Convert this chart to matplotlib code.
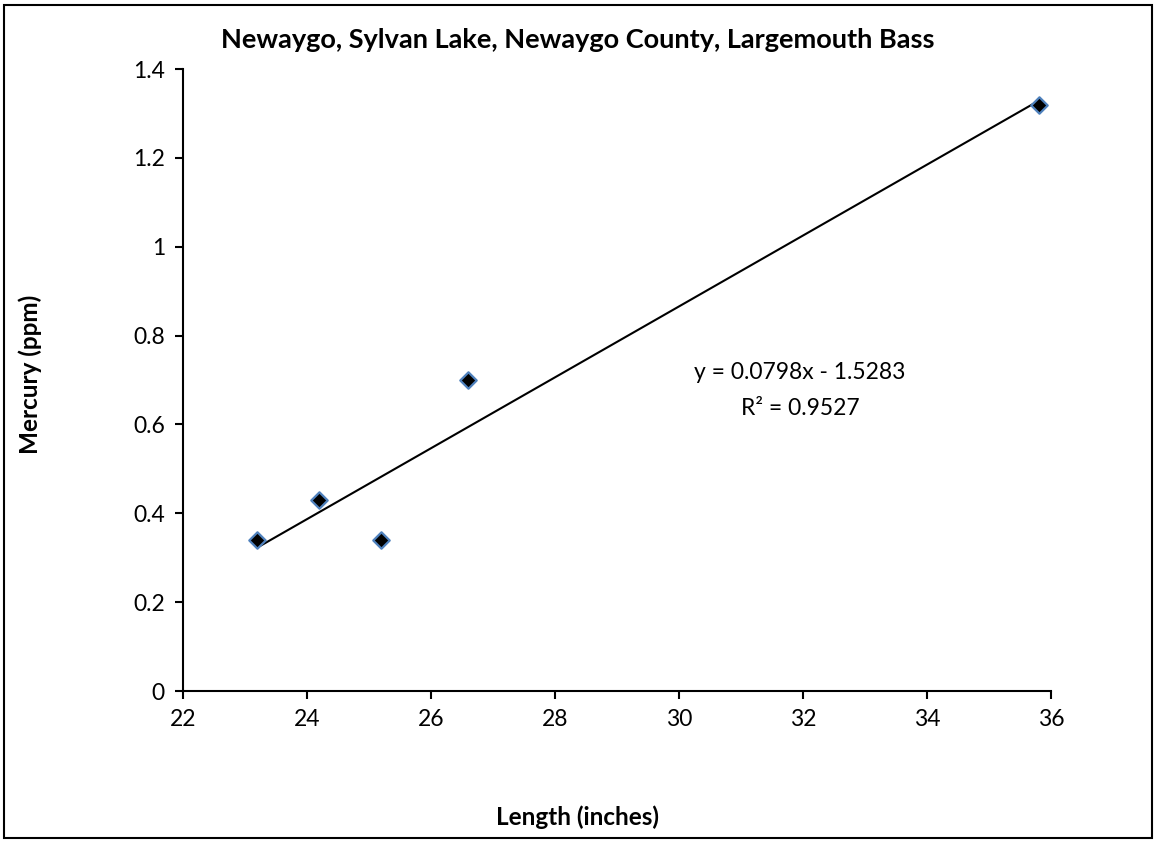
import matplotlib
matplotlib.use("Agg")
import matplotlib.pyplot as plt
import numpy as np
from matplotlib.patches import Rectangle

length = [23.2, 24.2, 25.2, 26.6, 35.8]
mercury = [0.34, 0.43, 0.34, 0.70, 1.32]
slope, intercept = 0.0798, -1.5283
r2 = 0.9527
title = "Newaygo, Sylvan Lake, Newaygo County, Largemouth Bass"
xticks = [22, 24, 26, 28, 30, 32, 34, 36]
yticks = [0, 0.2, 0.4, 0.6, 0.8, 1.0, 1.2, 1.4]
ytick_labels = ["0", "0.2", "0.4", "0.6", "0.8", "1", "1.2", "1.4"]

plt.rcParams['font.family'] = ['Lato', 'DejaVu Sans']

fig = plt.figure(figsize=(11.56, 8.42), dpi=100)
ax = fig.add_axes([0.1583, 0.1793, 0.7509, 0.7387])

xs = np.array([min(length), max(length)])
ax.plot(xs, slope * xs + intercept, color='black', lw=1.5, zorder=2)
ax.scatter(length, mercury, marker='D', s=70, facecolor='black',
           edgecolor='#4F81BD', linewidth=1.6, zorder=3)

ax.set_xlim(22, 36)
ax.set_ylim(0, 1.4)
ax.set_xticks(xticks)
ax.set_yticks(yticks)
ax.set_yticklabels(ytick_labels)
for s in ['top', 'right']:
    ax.spines[s].set_visible(False)
for s in ['left', 'bottom']:
    ax.spines[s].set_linewidth(1.5)
ax.tick_params(direction='out', length=6, width=1.5, labelsize=16.5, pad=7)

ax.text(31.95, 0.718, f"y = {slope}x - {abs(intercept)}", fontsize=16.5,
        ha='center', va='center')
ax.text(31.95, 0.637, f"R² = {r2}", fontsize=16.5, ha='center', va='center')

fig.text(0.5, 0.952, title, fontsize=19.5, fontweight='bold', ha='center', va='center')
fig.text(0.5, 0.030, "Length (inches)", fontsize=17.5, fontweight='bold', ha='center', va='center')
fig.text(0.026, 0.555, "Mercury (ppm)", fontsize=17.5, fontweight='bold', ha='center',
         va='center', rotation=90)

fig.patches.append(Rectangle((4/1156, 4/842), 1148/1156, 833/842, transform=fig.transFigure,
                             fill=False, edgecolor='black', lw=1.5))

fig.savefig("out.png", dpi=100)
